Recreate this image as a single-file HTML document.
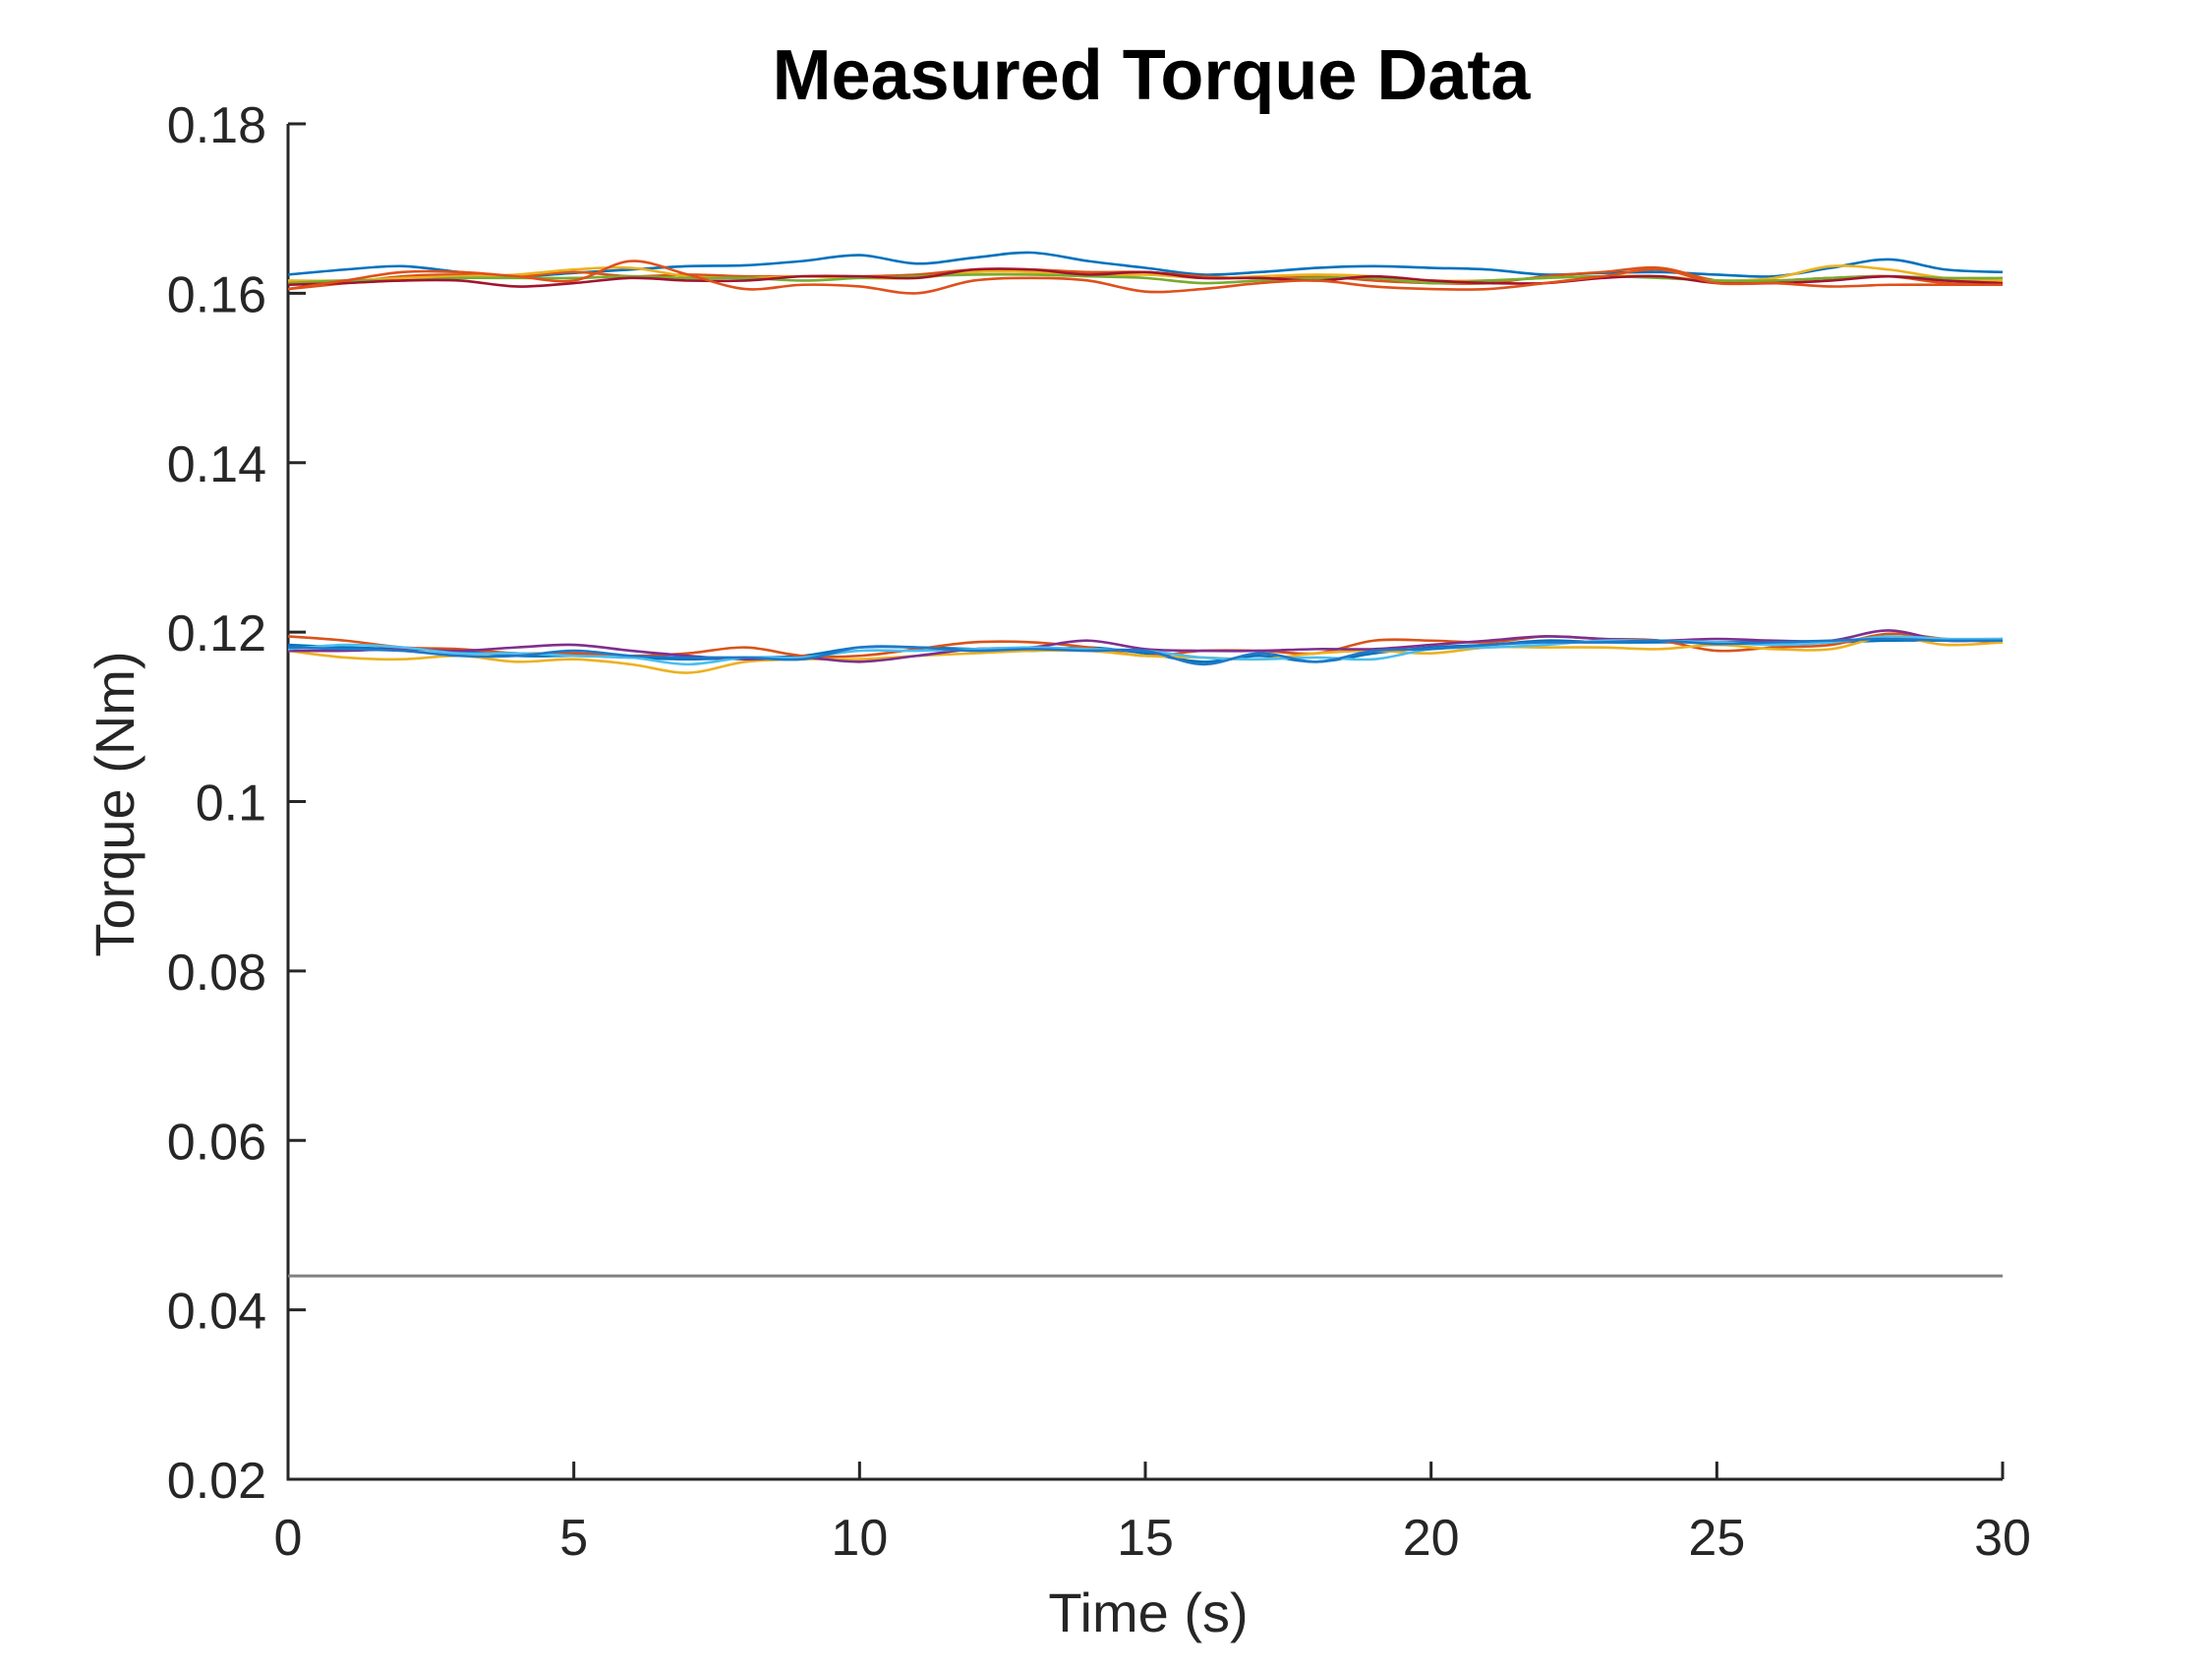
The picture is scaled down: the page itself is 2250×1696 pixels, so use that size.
<!DOCTYPE html>
<html><head><meta charset="utf-8"><style>
html,body{margin:0;padding:0;background:#fff}
svg text{font-family:"Liberation Sans",Arial,sans-serif}
</style></head><body>
<svg id="chart" width="2250" height="1691" viewBox="0 0 2250 1691" xmlns="http://www.w3.org/2000/svg">
<rect width="2250" height="1691" fill="#fff"/>
<text x="1171" y="101" font-size="72" font-weight="bold" text-anchor="middle" fill="#000">Measured Torque Data</text>
<g id="axes"></g>
<g id="series"></g>
<text x="1168" y="1660" font-size="56" text-anchor="middle" fill="#262626">Time (s)</text>
<text transform="translate(136,818) rotate(-90)" font-size="56" text-anchor="middle" fill="#262626">Torque (Nm)</text>
</svg>
<script>
const xTicks=[0,5,10,15,20,25,30];
const yTicks=[0.02,0.04,0.06,0.08,0.1,0.12,0.14,0.16,0.18];
const yTickLabels=["0.02","0.04","0.06","0.08","0.1","0.12","0.14","0.16","0.18"];
const times=[0,1,2,3,4,5,6,7,8,9,10,11,12,13,14,15,16,17,18,19,20,21,22,23,24,25,26,27,28,29,30];
const seriesNames=["top-blue","top-orange","top-yellow","top-green","top-darkred","top-red","low-blue","low-orange","low-yellow","low-purple","low-lightblue","low-blue2"];
const seriesColors=["#0072BD","#D95319","#EDB120","#77AC30","#A2142F","#E0501A","#0072BD","#D95319","#EDB120","#7E2F8E","#4DBEEE","#1F78C8"];
const s0=[0.1622,0.1628,0.1632,0.1625,0.1620,0.1624,0.1628,0.1632,0.1633,0.1638,0.1645,0.1635,0.1642,0.1648,0.1638,0.1630,0.1622,0.1625,0.1630,0.1632,0.1630,0.1628,0.1622,0.1624,0.1625,0.1622,0.1620,0.1630,0.1640,0.1628,0.1625];
const s1=[0.1605,0.1612,0.1620,0.1622,0.1620,0.1625,0.1620,0.1622,0.1620,0.1620,0.1620,0.1622,0.1628,0.1628,0.1625,0.1625,0.1620,0.1618,0.1620,0.1615,0.1612,0.1612,0.1620,0.1625,0.1630,0.1615,0.1615,0.1618,0.1620,0.1612,0.1610];
const s2=[0.1615,0.1615,0.1618,0.1620,0.1622,0.1628,0.1630,0.1620,0.1618,0.1620,0.1618,0.1618,0.1625,0.1625,0.1620,0.1622,0.1618,0.1620,0.1622,0.1620,0.1615,0.1615,0.1618,0.1620,0.1620,0.1615,0.1618,0.1632,0.1628,0.1618,0.1615];
const s3=[0.1612,0.1615,0.1615,0.1618,0.1618,0.1618,0.1620,0.1618,0.1618,0.1615,0.1618,0.1620,0.1622,0.1622,0.1620,0.1618,0.1612,0.1615,0.1618,0.1618,0.1612,0.1615,0.1618,0.1620,0.1618,0.1615,0.1615,0.1618,0.1620,0.1618,0.1618];
const s4=[0.1610,0.1612,0.1615,0.1615,0.1608,0.1612,0.1618,0.1615,0.1615,0.1620,0.1620,0.1618,0.1628,0.1628,0.1622,0.1625,0.1618,0.1618,0.1615,0.1620,0.1615,0.1612,0.1612,0.1618,0.1620,0.1612,0.1612,0.1615,0.1620,0.1615,0.1612];
const s5=[0.1605,0.1615,0.1625,0.1625,0.1620,0.1615,0.1638,0.1622,0.1605,0.1610,0.1608,0.1600,0.1615,0.1618,0.1615,0.1602,0.1605,0.1612,0.1615,0.1608,0.1605,0.1605,0.1612,0.1620,0.1628,0.1612,0.1612,0.1608,0.1610,0.1610,0.1610];
const s6=[0.1185,0.1182,0.1180,0.1178,0.1172,0.1172,0.1170,0.1168,0.1170,0.1172,0.1182,0.1182,0.1180,0.1178,0.1182,0.1175,0.1165,0.1172,0.1165,0.1175,0.1182,0.1185,0.1190,0.1188,0.1188,0.1188,0.1188,0.1188,0.1190,0.1190,0.1190];
const s7=[0.1195,0.1190,0.1182,0.1180,0.1175,0.1175,0.1172,0.1175,0.1182,0.1172,0.1172,0.1180,0.1188,0.1188,0.1182,0.1172,0.1178,0.1178,0.1175,0.1190,0.1190,0.1188,0.1195,0.1192,0.1190,0.1178,0.1182,0.1185,0.1198,0.1192,0.1188];
const s8=[0.1178,0.1170,0.1168,0.1172,0.1165,0.1168,0.1162,0.1152,0.1165,0.1168,0.1168,0.1172,0.1175,0.1178,0.1178,0.1172,0.1170,0.1168,0.1175,0.1178,0.1175,0.1182,0.1182,0.1182,0.1180,0.1185,0.1180,0.1180,0.1195,0.1185,0.1188];
const s9=[0.1178,0.1178,0.1180,0.1178,0.1182,0.1185,0.1178,0.1172,0.1168,0.1170,0.1165,0.1172,0.1180,0.1182,0.1190,0.1180,0.1178,0.1178,0.1180,0.1180,0.1185,0.1190,0.1195,0.1192,0.1190,0.1192,0.1190,0.1190,0.1202,0.1190,0.1192];
const s10=[0.1180,0.1185,0.1182,0.1175,0.1175,0.1172,0.1170,0.1162,0.1170,0.1170,0.1178,0.1178,0.1180,0.1182,0.1180,0.1178,0.1170,0.1168,0.1170,0.1168,0.1180,0.1182,0.1185,0.1190,0.1190,0.1188,0.1185,0.1188,0.1195,0.1192,0.1192];
const s11=[0.1182,0.1180,0.1178,0.1172,0.1172,0.1178,0.1172,0.1170,0.1170,0.1168,0.1182,0.1182,0.1178,0.1180,0.1178,0.1178,0.1162,0.1175,0.1165,0.1178,0.1180,0.1185,0.1188,0.1188,0.1190,0.1186,0.1188,0.1190,0.1192,0.1190,0.1190];
const seriesValues=[s0,s1,s2,s3,s4,s5,s6,s7,s8,s9,s10,s11];
const refValue=[0.044];

const X0=293,X1=2037,Y0=1505,Y1=126;
const xMin=0,xMax=30,yMin=0.02,yMax=0.18;
function xScale(t){return X0+(t-xMin)/(xMax-xMin)*(X1-X0);}
function yScale(v){return Y0-(v-yMin)/(yMax-yMin)*(Y0-Y1);}
const NS="http://www.w3.org/2000/svg";
const axes=document.getElementById('axes');
const ser=document.getElementById('series');
function mk(tag,attrs,parent){const e=document.createElementNS(NS,tag);for(const k in attrs)e.setAttribute(k,attrs[k]);parent.appendChild(e);return e;}

let a=mk('path',{d:`M${X0},${Y1}V${Y0}H${X1}`,fill:'none',stroke:'#262626','stroke-width':3},axes);


xTicks.forEach((t,i)=>{
  const x=xScale(t);
  const tk=mk('line',{x1:x,x2:x,y1:Y0,y2:Y0-18,stroke:'#262626','stroke-width':3},axes);
  
  
  const tx=mk('text',{x:x,y:Y0+77,'font-size':52,'text-anchor':'middle',fill:'#262626'},axes);
  tx.textContent=String(t);
  
  
});
yTicks.forEach((v,i)=>{
  const y=yScale(v);
  const tk=mk('line',{x1:X0,x2:X0+18,y1:y,y2:y,stroke:'#262626','stroke-width':3},axes);
  
  
  const tx=mk('text',{x:X0-22,y:y+19,'font-size':52,'text-anchor':'end',fill:'#262626'},axes);
  tx.textContent=yTickLabels[i];
  
  
});

const rl=mk('line',{x1:xScale(xMin),x2:xScale(xMax),y1:yScale(refValue[0]),y2:yScale(refValue[0]),stroke:'#808080','stroke-width':3},ser);



function smoothPath(pts){
  let d=`M${pts[0][0]},${pts[0][1]}`;
  for(let i=0;i<pts.length-1;i++){
    const p0=pts[Math.max(0,i-1)],p1=pts[i],p2=pts[i+1],p3=pts[Math.min(pts.length-1,i+2)];
    const c1x=p1[0]+(p2[0]-p0[0])/6,c1y=p1[1]+(p2[1]-p0[1])/6;
    const c2x=p2[0]-(p3[0]-p1[0])/6,c2y=p2[1]-(p3[1]-p1[1])/6;
    d+=`C${c1x},${c1y} ${c2x},${c2y} ${p2[0]},${p2[1]}`;
  }
  return d;
}
seriesValues.forEach((vals,si)=>{
  const pts=vals.map((v,i)=>[xScale(times[i]),yScale(v)]);
  const p=mk('path',{d:smoothPath(pts),fill:'none',stroke:seriesColors[si],'stroke-width':2.6,'stroke-linejoin':'round'},ser);
  
  
});
</script>
</body></html>
